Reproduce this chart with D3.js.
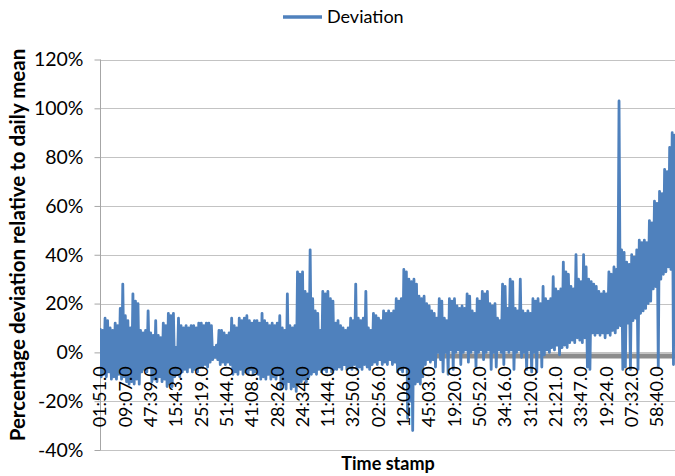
<!DOCTYPE html>
<html>
<head>
<meta charset="utf-8">
<script src="https://cdn.jsdelivr.net/npm/d3@7"></script>
<style>
  html, body { margin: 0; padding: 0; background: #ffffff; }
  svg { display: block; }
  text { font-family: Lato, "Open Sans", sans-serif; fill: #000; }
</style>
</head>
<body>
<div id="chart"></div>
<script>
// Timestamp labels shown along the horizontal axis (one every 20 samples)
const tickLabels = ["01:51.0","09:07.0","47:39.0","15:43.0","25:19.0","51:44.0","41:08.0",
  "28:26.0","24:34.0","11:44.0","32:50.0","02:56.0","12:06.0","45:03.0","19:20.0","50:52.0",
  "34:16.0","31:20.0","21:21.0","33:47.0","19:24.0","07:32.0","58:40.0"];
const samplesPerLabel = 20;

// Percent ticks on the vertical axis
const yTicks = [-40, -20, 0, 20, 40, 60, 80, 100, 120];

// Deviation (% of daily mean): upper reading of each sampling pair
const peakValues = [
  10,9,14,13,10,9,12,11,18,28,
  15,13,10,24,21,20,9,8,9,17,
  8,7,13,7,6,12,11,16,15,16,
  2,14,11,10,11,10,11,11,10,12,
  12,11,12,12,11,2,3,9,9,8,
  7,8,14,11,10,14,13,14,15,13,
  12,13,13,12,16,13,12,11,12,11,
  12,15,10,9,24,11,10,11,33,32,
  33,25,24,42,22,17,16,9,25,24,
  25,22,21,12,13,11,10,9,10,14,
  13,28,14,13,14,25,10,9,16,15,
  14,13,17,16,17,16,17,22,21,22,
  34,33,30,29,30,28,23,22,23,20,
  19,17,16,14,22,21,14,13,22,21,
  22,19,18,19,18,24,23,17,16,22,
  21,25,24,25,20,19,20,14,13,28,
  27,18,30,29,18,17,30,17,16,17,
  16,22,21,22,20,27,22,21,22,31,
  26,25,26,37,33,32,27,26,40,30,
  29,40,35,30,29,28,27,25,24,25,
  24,33,32,35,34,103,42,41,37,36,
  40,39,42,46,45,46,45,54,53,62,
  61,66,65,75,74,84,90,89
];

// Deviation (% of daily mean): lower reading of each sampling pair
const troughValues = [
  -10,-9,-10,-8,-11,-10,-11,-9,-11,-10,
  -12,-13,-12,-13,-11,-13,-8,-7,-8,-6,
  -12,-11,-12,-10,-12,-11,-14,-13,-14,-10,
  -9,-10,-8,-7,-8,-6,-8,-7,-8,-6,
  -6,-5,-6,-4,-3,-2,-3,-5,-4,-5,
  -4,-5,-9,-8,-9,-7,-9,-8,-9,-7,
  -9,-8,-9,-11,-10,-11,-9,-11,-10,-11,
  -9,-15,-13,-15,-12,-15,-14,-16,-13,-12,
  -11,-12,-10,-9,-8,-9,-7,-8,-7,-8,
  -6,-8,-7,-7,-6,-7,-5,-7,-6,-7,
  -5,-7,-6,-7,-5,-6,-7,-5,-4,-5,
  -3,-5,-4,-5,-3,-5,-4,-8,-7,-8,
  -6,-27,-20,-32,-13,-12,-13,-10,
  -5,-3,-4,-3,-6,0,-3,-8,0,-9,
  1,-7,0,1,-5,0,1,-4,0,1,
  -6,0,1,-3,0,1,-7,0,-6,1,
  0,-5,1,0,1,-7,0,1,-2,0,
  -7,1,-8,0,-8,1,-6,
  -1,1,0,2,1,3,-1,2,3,2,
  4,5,4,6,5,4,6,-6,-7,8,
  7,8,7,8,6,8,7,9,8,10,
  11,-7,-6,12,-7,13,14,-7,16,17,
  18,20,21,26,27,-6,30,32,33,35,
  34,-5,40
];

// Full series in time order: upper, lower, upper, lower, ...
const deviation = peakValues.flatMap((v, i) => [v, troughValues[i]]);

const W = 675, H = 476;
const plot = { left: 100, right: 676, top: 59.5, bottom: 450 };
const blue = "#4F81BD";

const svg = d3.select("#chart").append("svg")
  .attr("width", W).attr("height", H)
  .attr("viewBox", `0 0 ${W} ${H}`);

svg.append("rect").attr("width", W).attr("height", H).attr("fill", "#fff");

const x = d3.scaleLinear()
  .domain([0, deviation.length - 1])
  .range([plot.left, plot.right]);

const y = d3.scaleLinear()
  .domain([d3.min(yTicks), d3.max(yTicks)])
  .range([plot.bottom, plot.top]);

// Horizontal gridlines
svg.append("g")
  .selectAll("line")
  .data(yTicks)
  .join("line")
  .attr("x1", plot.left).attr("x2", W)
  .attr("y1", d => Math.round(y(d)) + 0.5)
  .attr("y2", d => Math.round(y(d)) + 0.5)
  .attr("stroke", "#c3c3c3")
  .attr("stroke-width", 1);

// Vertical axis with outward ticks and percent labels
const yAxis = d3.axisLeft(y)
  .tickValues(yTicks)
  .tickSize(6)
  .tickPadding(11)
  .tickFormat(d => d + "%");

const gy = svg.append("g")
  .attr("transform", `translate(${plot.left + 0.5},0)`)
  .call(yAxis);
gy.select(".domain").attr("stroke", "#a6a6a6").attr("d", `M0,${plot.top}V${plot.bottom}`);
gy.selectAll(".tick line").attr("stroke", "#a6a6a6");
gy.selectAll(".tick text")
  .attr("font-family", "Lato, sans-serif")
  .attr("font-size", 19.5)
  .attr("fill", "#000");

// Category axis line at 0%
svg.append("line")
  .attr("x1", plot.left).attr("x2", W)
  .attr("y1", y(0) + 3.5).attr("y2", y(0) + 3.5)
  .attr("stroke", "#8c8c8c")
  .attr("stroke-width", 5);

// Deviation series
const clipId = "plot-clip";
svg.append("clipPath").attr("id", clipId)
  .append("rect")
  .attr("x", plot.left).attr("y", 0)
  .attr("width", W - plot.left).attr("height", H);

const line = d3.line()
  .x((d, i) => x(i))
  .y(d => y(d));

svg.append("path")
  .datum(deviation)
  .attr("clip-path", `url(#${clipId})`)
  .attr("fill", "none")
  .attr("stroke", blue)
  .attr("stroke-width", 2.8)
  .attr("stroke-linejoin", "round")
  .attr("d", line);

// Timestamp labels, rotated, hanging below the 0% line
svg.append("g")
  .selectAll("text")
  .data(tickLabels)
  .join("text")
  .attr("transform", (d, i) => `translate(${x(i * samplesPerLabel)},${y(0) + 14}) rotate(-90)`)
  .attr("text-anchor", "end")
  .attr("dy", "0.35em")
  .attr("font-size", 18)
  .text(d => d);

// Axis titles
svg.append("text")
  .attr("x", 388).attr("y", 470)
  .attr("text-anchor", "middle")
  .attr("font-weight", "bold")
  .attr("font-size", 18)
  .text("Time stamp");

svg.append("text")
  .attr("transform", "translate(18,245) rotate(-90)")
  .attr("text-anchor", "middle")
  .attr("dy", "0.35em")
  .attr("font-weight", "bold")
  .attr("font-size", 20.5)
  .text("Percentage deviation relative to daily mean");

// Legend
const legend = svg.append("g").attr("transform", "translate(283,17)");
legend.append("line")
  .attr("x1", 0).attr("x2", 39)
  .attr("stroke", blue)
  .attr("stroke-width", 3.5);
legend.append("text")
  .attr("x", 44)
  .attr("dy", "0.35em")
  .attr("font-size", 18)
  .text("Deviation");
</script>
</body>
</html>
